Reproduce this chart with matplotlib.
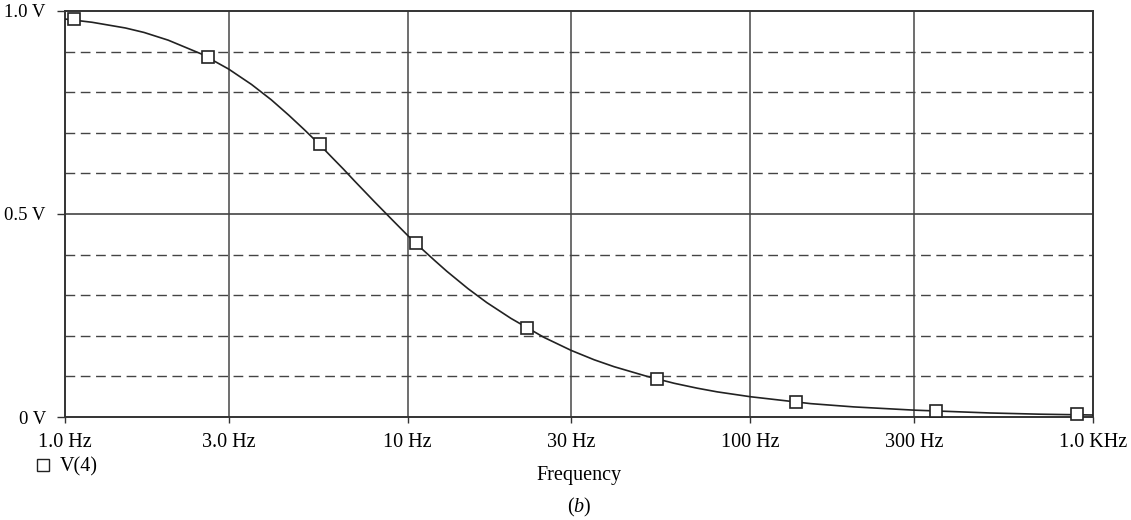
# Low-pass frequency response, V(4) vs frequency (PSpice-style plot)
import matplotlib.pyplot as plt
from matplotlib.lines import Line2D

plt.rcParams['font.family'] = ['Liberation Serif', 'DejaVu Serif']
plt.rcParams['mathtext.fontset'] = 'custom'
plt.rcParams['mathtext.rm'] = 'Liberation Serif'
plt.rcParams['mathtext.it'] = 'Liberation Serif:italic'

# Curve
freq = [1, 1.2, 1.5, 1.7, 2, 2.5, 3, 3.5, 4, 4.5, 5, 5.5, 6, 6.5, 7, 8, 9, 10,
        11, 12, 13, 15, 17, 20, 25, 30, 35, 40, 50, 60, 70, 80, 100, 150, 200,
        300, 500, 700, 1000]
volts = [0.980, 0.972, 0.958, 0.947, 0.928, 0.894, 0.857, 0.819, 0.781, 0.743,
         0.707, 0.673, 0.640, 0.610, 0.581, 0.530, 0.486, 0.447, 0.414, 0.385,
         0.359, 0.316, 0.282, 0.243, 0.196, 0.164, 0.141, 0.124, 0.100, 0.083,
         0.071, 0.062, 0.050, 0.033, 0.025, 0.017, 0.010, 0.007, 0.005]

# Marker positions
marker_freq = [1.06, 2.61, 5.55, 10.6, 22.3, 53.4, 136, 348, 898]
marker_volts = [0.980, 0.887, 0.672, 0.429, 0.219, 0.094, 0.037, 0.015, 0.007]

x_ticks = [1, 3, 10, 30, 100, 300, 1000]
x_labels = ['1.0 Hz', '3.0 Hz', '10 Hz', '30 Hz', '100 Hz', '300 Hz', '1.0 KHz']
y_ticks = [0, 0.5, 1.0]
y_labels = ['0 V', '0.5 V', '1.0 V']
y_dashed = [0.1, 0.2, 0.3, 0.4, 0.6, 0.7, 0.8, 0.9]

fig = plt.figure(figsize=(11.31, 5.2), dpi=100)
ax = fig.add_axes([0.0575, 0.198, 0.909, 0.781])

ax.set_xscale('log')
ax.set_xlim(1, 1000)
ax.set_ylim(0, 1.0)

ax.set_xticks(x_ticks)
ax.set_xticklabels(x_labels)
ax.set_xticks([], minor=True)
ax.set_yticks(y_ticks)
ax.set_yticklabels(y_labels)

ax.tick_params(axis='both', which='major', color='#333333',
               width=1.0, direction='out')
ax.tick_params(axis='x', length=4.5, pad=7, labelsize=14.5)
ax.tick_params(axis='y', length=5.8, pad=8, labelsize=13.5)

# grid
for f in x_ticks[1:-1]:
    ax.axvline(f, color='#555555', lw=1.2, zorder=1)
ax.axhline(0.5, color='#444444', lw=1.2, zorder=1)
for v in y_dashed:
    ax.axhline(v, color='#444444', lw=1.0, dashes=(7, 4), zorder=1)

for s in ax.spines.values():
    s.set_color('#333333')
    s.set_linewidth(1.4)

ax.plot(freq, volts, color='#222222', lw=1.2, zorder=3)
ax.plot(marker_freq, marker_volts, linestyle='none', marker='s', markersize=8.5,
        markerfacecolor='white', markeredgecolor='#222222', markeredgewidth=1.2,
        zorder=4, clip_on=False)

# legend entry under the axis
handle = Line2D([], [], linestyle='none', marker='s', markersize=8,
                markerfacecolor='white', markeredgecolor='#222222',
                markeredgewidth=1.0)
fig.legend([handle], ['V(4)'], loc='center left', bbox_to_anchor=(0.033, 0.102),
           frameon=False, fontsize=14.5, handlelength=0.6, handletextpad=0.5,
           borderpad=0, borderaxespad=0)

fig.text(0.512, 0.086, 'Frequency', ha='center', va='center', fontsize=14.5)
fig.text(0.512, 0.025, '($b$)', ha='center', va='center', fontsize=14.5)

plt.savefig('out.png', dpi=100)
